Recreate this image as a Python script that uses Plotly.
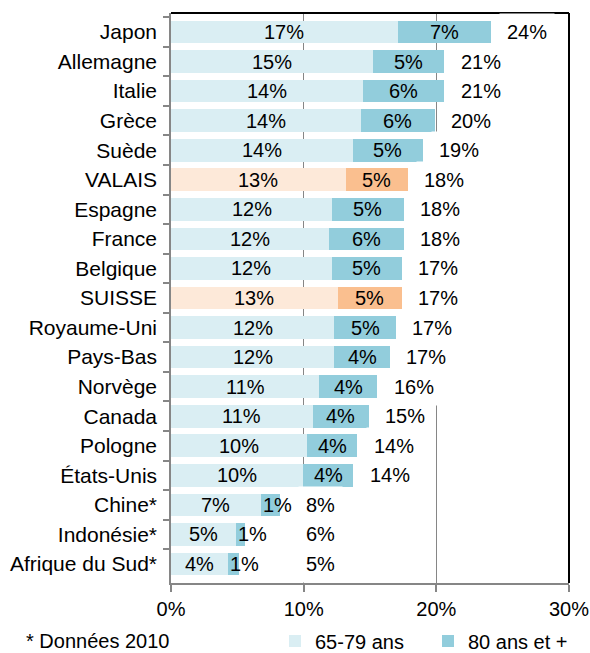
import plotly.graph_objects as go

# ---- data (percent of population) ----
pays = ["Japon", "Allemagne", "Italie", "Grèce", "Suède", "VALAIS", "Espagne",
        "France", "Belgique", "SUISSE", "Royaume-Uni", "Pays-Bas", "Norvège",
        "Canada", "Pologne", "États-Unis", "Chine*", "Indonésie*", "Afrique du Sud*"]
age_65_79 = [17.08, 15.20, 14.47, 14.32, 13.69, 13.17, 12.14, 11.88, 12.11, 12.55,
             12.29, 12.29, 11.16, 10.70, 10.25, 9.97, 6.78, 4.90, 4.30]
age_80_plus = [7.03, 5.40, 6.13, 5.58, 5.28, 4.67, 5.40, 5.66, 5.28, 4.84,
               4.67, 4.22, 4.39, 4.22, 3.80, 3.77, 1.41, 0.70, 0.85]
highlight = ["VALAIS", "SUISSE"]
x_ticks = [0, 10, 20, 30]
series_names = ["65-79 ans", "80 ans et +"]
note = "* Données 2010"

# ---- style ----
FONT = "Liberation Sans, Arial, sans-serif"
FS = 20
LIGHT_BLUE, DARK_BLUE = "#DAEEF3", "#92CDDC"
LIGHT_ORANGE, DARK_ORANGE = "#FDE9D9", "#FABF8F"
GREY = "#868686"

W, H = 590, 653
ML, MR, MT, MB = 171, 21, 13, 70
PW, PH = W - ML - MR, H - MT - MB

light_colors = [LIGHT_ORANGE if p in highlight else LIGHT_BLUE for p in pays]
dark_colors = [DARK_ORANGE if p in highlight else DARK_BLUE for p in pays]

fig = go.Figure()
fig.add_trace(go.Bar(y=pays, x=age_65_79, orientation="h", name=series_names[0],
                     marker=dict(color=light_colors, line=dict(width=0))))
fig.add_trace(go.Bar(y=pays, x=age_80_plus, orientation="h", name=series_names[1],
                     marker=dict(color=dark_colors, line=dict(width=0))))

annotations = []
for p, a, b in zip(pays, age_65_79, age_80_plus):
    annotations.append(dict(x=a / 2, y=p, xref="x", yref="y", text=f"{a:.0f}%",
                            showarrow=False, font=dict(family=FONT, size=FS, color="black")))
    narrow = b < 2.5  # segment narrower than its label: label starts at segment start
    annotations.append(dict(x=a if narrow else a + b / 2, y=p, xref="x", yref="y",
                            xanchor="left" if narrow else "center",
                            text=f"{b:.0f}%", showarrow=False,
                            font=dict(family=FONT, size=FS, color="black")))
for p, a, b in zip(pays, age_65_79, age_80_plus):
    total = a + b
    annotations.append(dict(x=max(total + 2.73, 11.25), y=p, xref="x", yref="y",
                            text=f"{total:.0f}%", showarrow=False, bgcolor="white",
                            borderpad=7,
                            font=dict(family=FONT, size=FS, color="black")))
annotations.append(dict(x=(24 - ML) / PW, y=-(641 - (H - MB)) / PH,
                        xref="paper", yref="paper", text=note,
                        xanchor="left", yanchor="middle", showarrow=False,
                        font=dict(family=FONT, size=FS, color="black")))

fig.update_layout(
    width=W, height=H,
    margin=dict(l=ML, r=MR, t=MT, b=MB, autoexpand=False),
    barmode="stack", bargap=0.23,
    plot_bgcolor="white", paper_bgcolor="white",
    font=dict(family=FONT, size=FS, color="black"),
    hovermode=False,
    xaxis=dict(range=[0, 30], tickvals=x_ticks, ticktext=[f"{v}%" for v in x_ticks],
               showgrid=True, gridcolor=GREY, gridwidth=1, zeroline=False,
               showline=True, linecolor=GREY, linewidth=1.5,
               ticks="outside", ticklen=7, tickcolor=GREY, tickwidth=1.5,
               tickfont=dict(family=FONT, size=FS, color="black")),
    yaxis=dict(autorange="reversed", showgrid=False, showline=True, linecolor=GREY,
               linewidth=1.5, ticks="outside", ticklen=6, tickcolor=GREY, tickwidth=1.5,
               tickson="boundaries", ticklabelstandoff=8,
               tickfont=dict(family=FONT, size=21, color="black")),
    legend=dict(orientation="h", xref="container", yref="container",
                x=275 / W, xanchor="left", y=1 - 641 / H, yanchor="middle",
                font=dict(family=FONT, size=FS, color="black"),
                traceorder="normal", entrywidth=108, itemwidth=30,
                bgcolor="rgba(0,0,0,0)"),
    shapes=[
        dict(type="line", xref="paper", yref="paper", x0=0, x1=1, y0=1, y1=1,
             line=dict(color="black", width=2), layer="above"),
        dict(type="line", xref="paper", yref="paper", x0=1, x1=1, y0=0, y1=1,
             line=dict(color="black", width=2), layer="above"),
    ],
    annotations=annotations,
    showlegend=True,
)

fig.write_html("out.html",
               config={"displayModeBar": False, "staticPlot": False},
               post_script="document.body.style.margin='0';"
                           "document.body.style.overflow='hidden';")
